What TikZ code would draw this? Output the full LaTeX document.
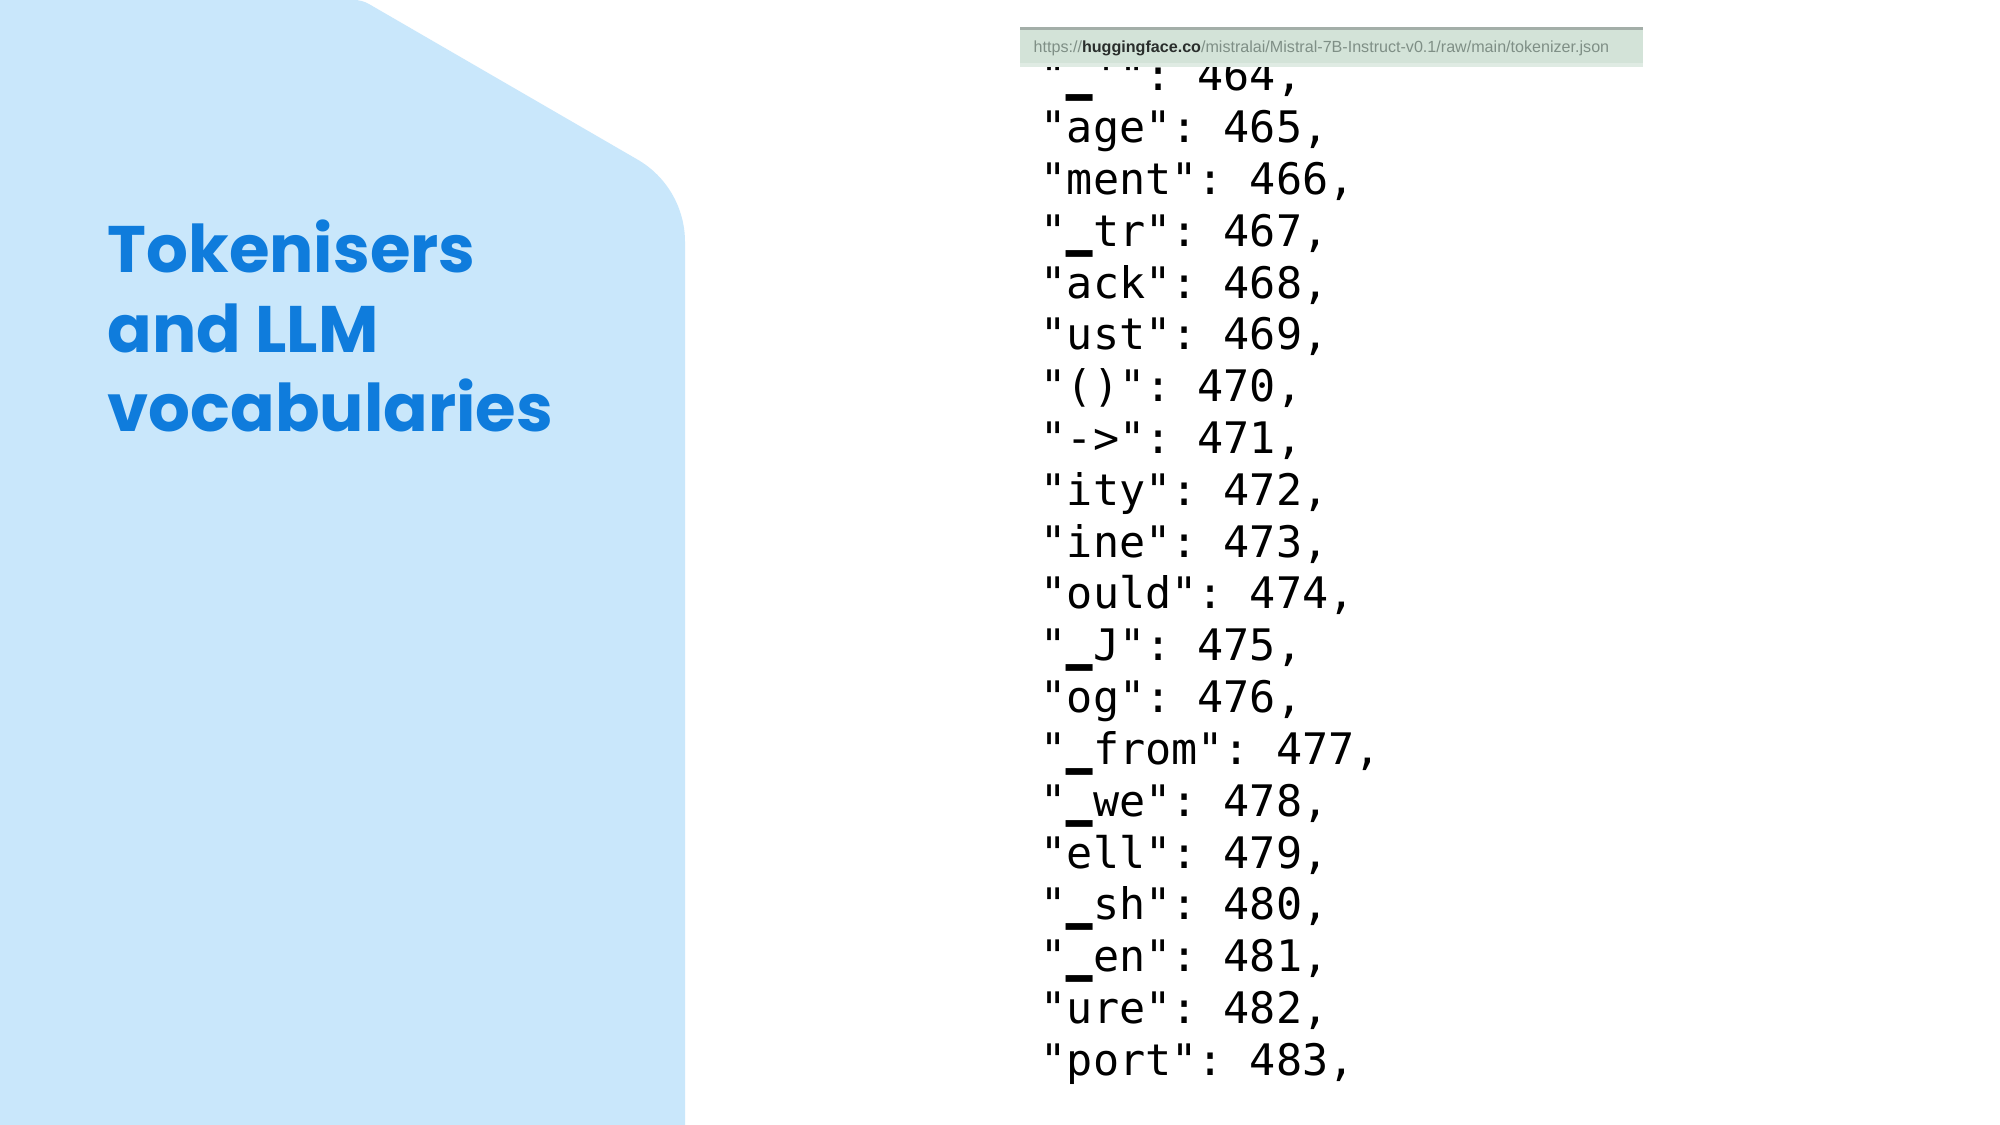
\documentclass[tikz,border=0pt]{standalone}
\usepackage{fontspec}
\setmonofont{DejaVu Sans Mono}
\newfontfamily\poppinsfont{Poppins}
\newfontfamily\urlfont{Liberation Sans}
\definecolor{panelblue}{HTML}{C9E7FB}
\definecolor{titleblue}{HTML}{0F7CDC}
\definecolor{barfill}{HTML}{D3E3D8}
\definecolor{barline}{HTML}{A3AEA8}
\definecolor{barlow}{HTML}{DFEBE3}
\definecolor{urlgrey}{HTML}{7F8F86}
\definecolor{urldark}{HTML}{2A2E2C}
\tikzset{
  titleline/.style={anchor=base west, inner sep=0pt, text=titleblue,
    font=\poppinsfont\bfseries\fontsize{18.7}{22}\selectfont},
  codeline/.style={anchor=base west, inner sep=0pt, text=black,
    font=\ttfamily\fontsize{12.35}{14}\selectfont},
  urlbar/.style={fill=barfill, draw=none, inner sep=0pt,
    minimum width=6.23cm, minimum height=0.38cm},
  urltext/.style={anchor=base west, inner sep=0pt,
    font=\urlfont\fontsize{4.58}{5}\selectfont}
}
\begin{document}
\begin{tikzpicture}[x=0.01cm, y=-0.01cm]
\useasboundingbox (0,0) rectangle (2000,1125);
\fill[white] (0,0) rectangle (2000,1125);
% left panel
\fill[panelblue] (0,0) -- (354,0) .. controls (359.2,0) and (364.4,1.4) .. (368.9,4)
  -- (637.4,159.5) .. controls (666.9,176.5) and (685,208) .. (685,242)
  -- (685,1125) -- (0,1125) -- cycle;
% title
\node[titleline] (t1) at (107,273) {Tokenisers};
\node[titleline] (t2) at (107,353) {and LLM};
\node[titleline] (t3) at (107,432) {vocabularies};
% code lines
\node[codeline] (c0) at (1040,91) {"▁'": 464,};
\node[codeline] (c1) at (1040,142.8) {"age": 465,};
\node[codeline] (c2) at (1040,194.6) {"ment": 466,};
\node[codeline] (c3) at (1040,246.4) {"▁tr": 467,};
\node[codeline] (c4) at (1040,298.2) {"ack": 468,};
\node[codeline] (c5) at (1040,350) {"ust": 469,};
\node[codeline] (c6) at (1040,401.8) {"()": 470,};
\node[codeline] (c7) at (1040,453.6) {"->": 471,};
\node[codeline] (c8) at (1040,505.4) {"ity": 472,};
\node[codeline] (c9) at (1040,557.2) {"ine": 473,};
\node[codeline] (c10) at (1040,609) {"ould": 474,};
\node[codeline] (c11) at (1040,660.8) {"▁J": 475,};
\node[codeline] (c12) at (1040,712.6) {"og": 476,};
\node[codeline] (c13) at (1040,764.4) {"▁from": 477,};
\node[codeline] (c14) at (1040,816.2) {"▁we": 478,};
\node[codeline] (c15) at (1040,868) {"ell": 479,};
\node[codeline] (c16) at (1040,919.8) {"▁sh": 480,};
\node[codeline] (c17) at (1040,971.6) {"▁en": 481,};
\node[codeline] (c18) at (1040,1023.4) {"ure": 482,};
\node[codeline] (c19) at (1040,1075.2) {"port": 483,};
% url bar
\node[urlbar] (bar) at (1331.5,47) {};
\fill[barlow] (1020,63) rectangle (1643,67);
\fill[barline] (1020,27) rectangle (1643,30);
\node[urltext] (url) at (1033,52.5) {\textcolor{urlgrey}{https://}\textcolor{urldark}{\bfseries huggingface.co}\textcolor{urlgrey}{/mistralai/Mistral-7B-Instruct-v0.1/raw/main/tokenizer.json}};
\end{tikzpicture}
\end{document}
